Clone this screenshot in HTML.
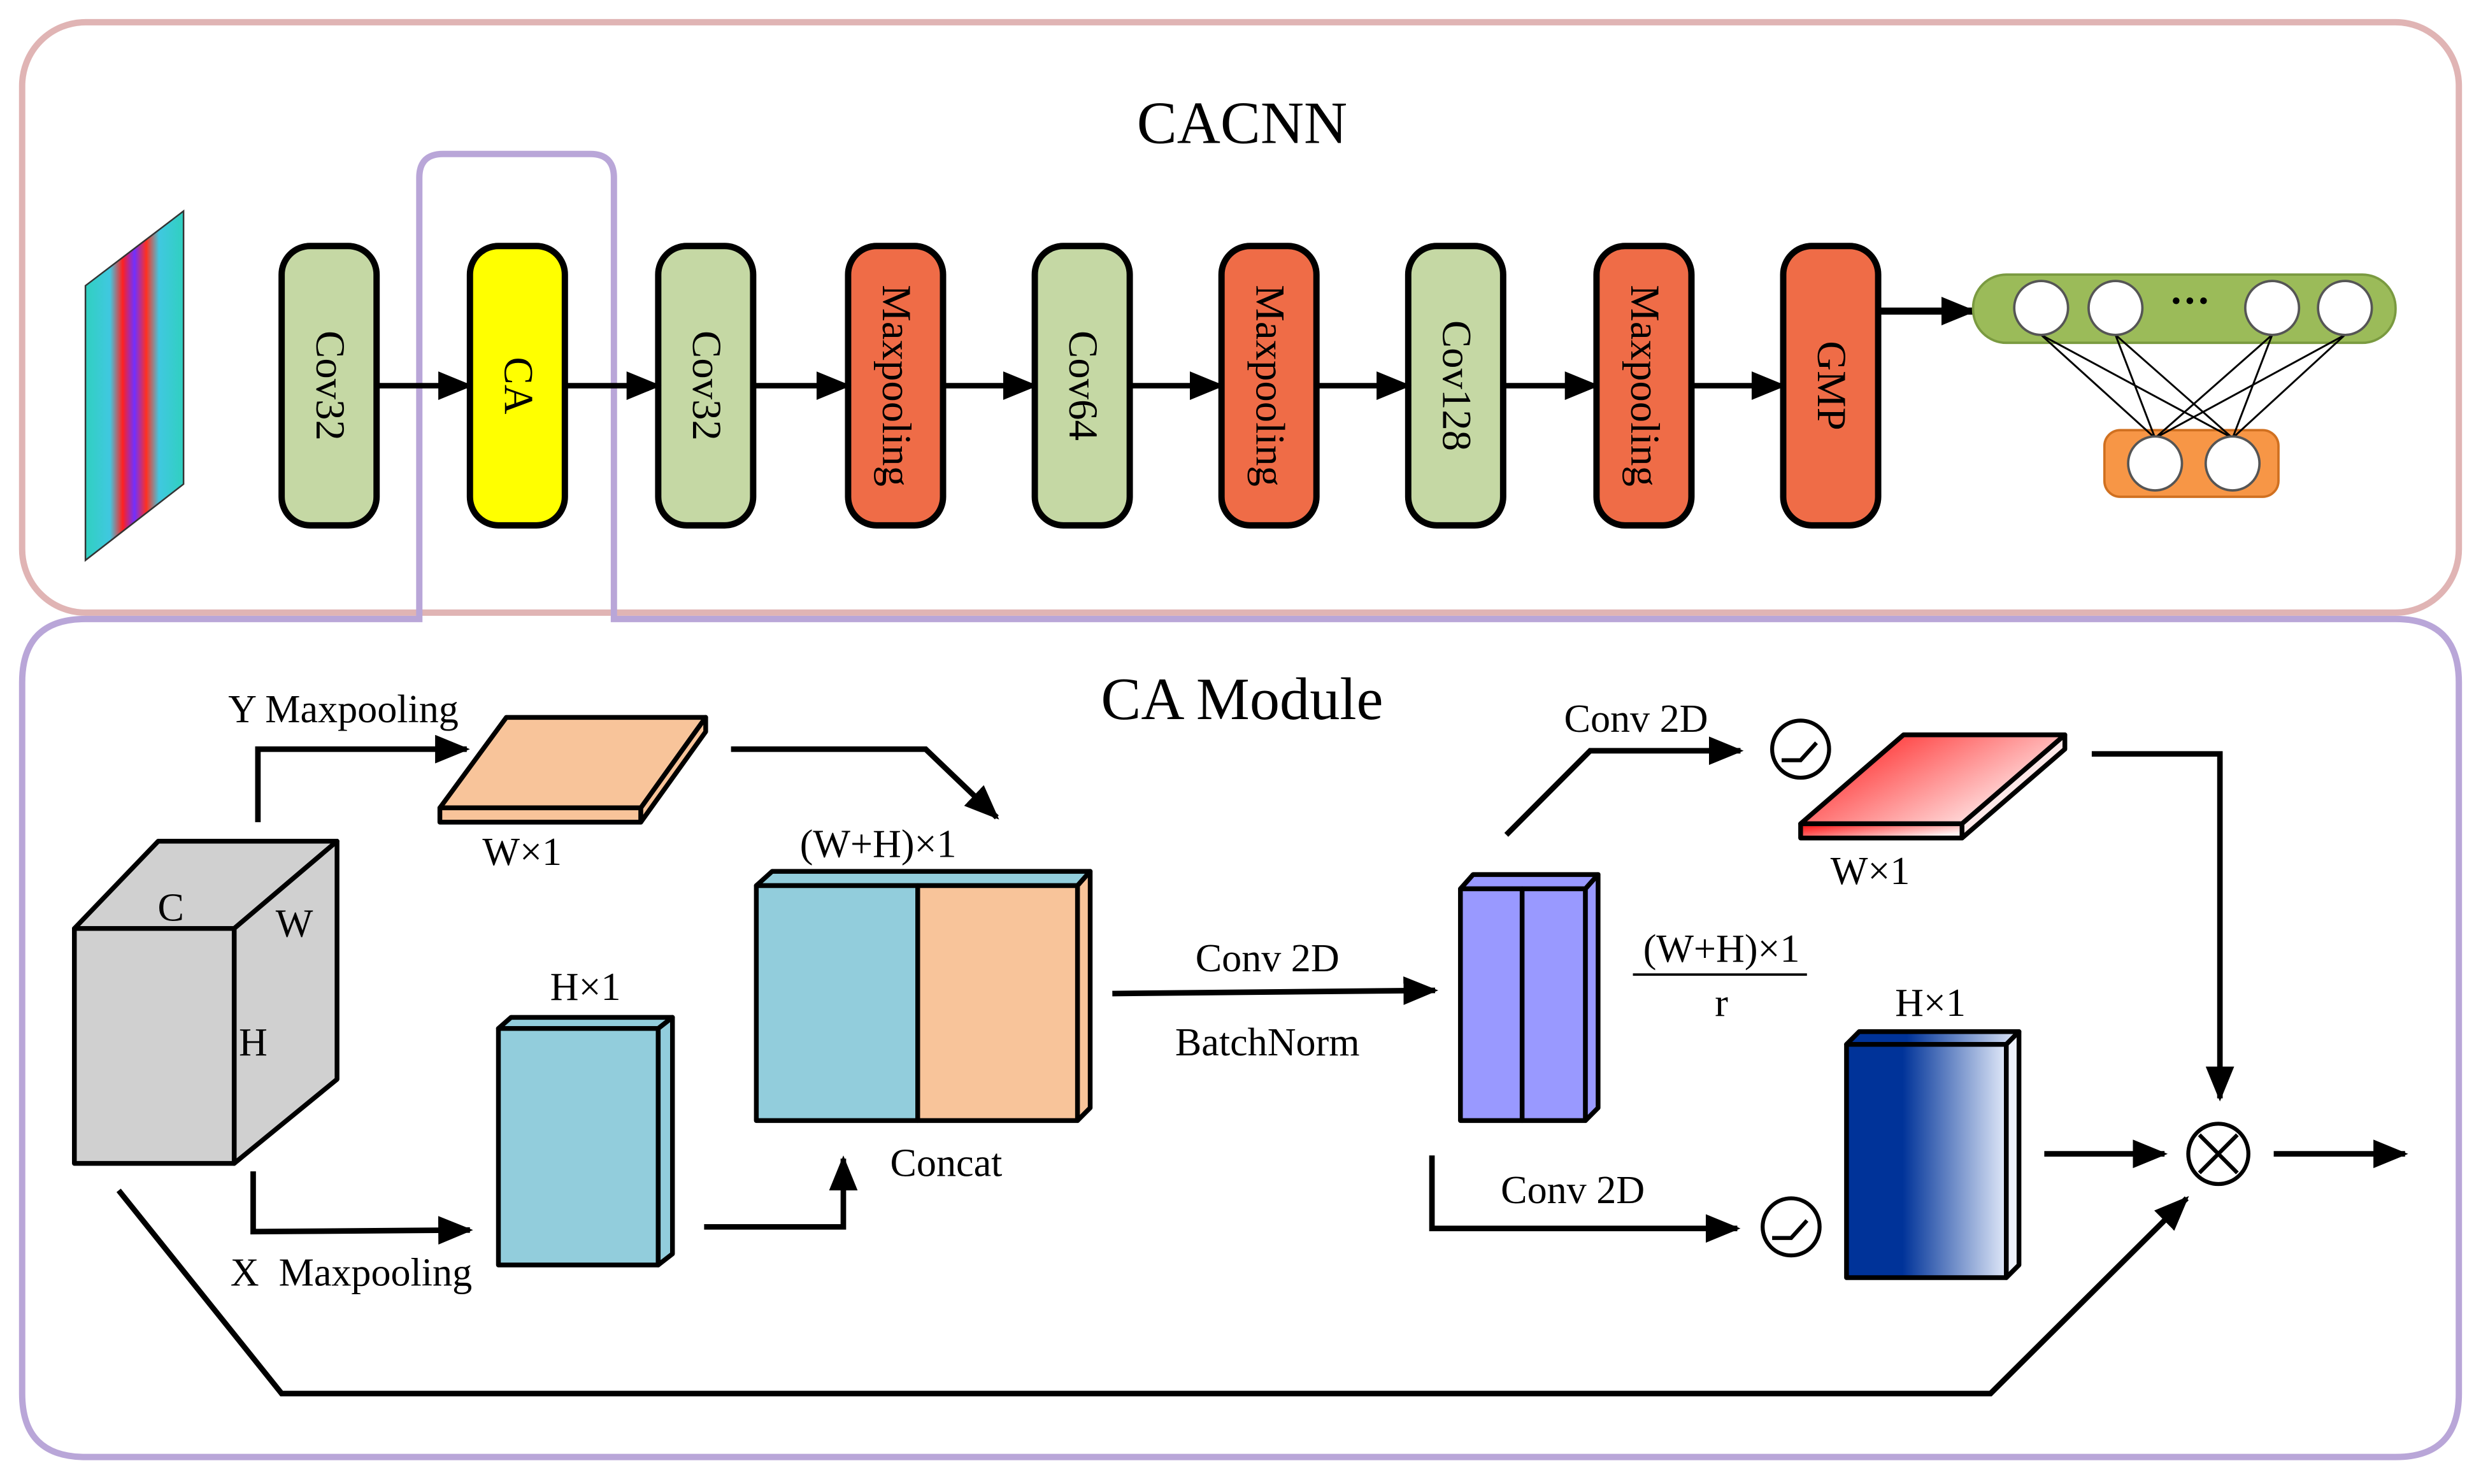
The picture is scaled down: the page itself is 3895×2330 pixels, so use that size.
<!DOCTYPE html>
<html><head><meta charset="utf-8"><style>
html,body{margin:0;padding:0;background:#fff;}
svg{display:block;}
</style></head><body>
<svg width="3895" height="2330" viewBox="0 0 1568 935" preserveAspectRatio="none" xmlns="http://www.w3.org/2000/svg" font-family="'Liberation Serif', 'DejaVu Serif', serif">
<defs>
<marker id="ab" markerWidth="22" markerHeight="18" refX="20" refY="9" orient="auto" markerUnits="userSpaceOnUse" viewBox="0 0 22 18">
<path d="M0,0 L22,9 L0,18 z" fill="#000"/></marker>
<linearGradient id="img" x1="0" y1="0" x2="1" y2="0">
<stop offset="0" stop-color="#30d0c0"/><stop offset="0.25" stop-color="#40c8e0"/><stop offset="0.38" stop-color="#ff2020"/><stop offset="0.5" stop-color="#7030ff"/><stop offset="0.62" stop-color="#ff3020"/><stop offset="0.75" stop-color="#40c8e0"/><stop offset="1" stop-color="#30d0c0"/></linearGradient>
<linearGradient id="red" x1="0" y1="0" x2="1" y2="0.6"><stop offset="0.1" stop-color="#ff2020"/><stop offset="1" stop-color="#fff0f0"/></linearGradient>
<linearGradient id="blue" x1="0" y1="0" x2="1" y2="0"><stop offset="0.35" stop-color="#003399"/><stop offset="1" stop-color="#e0e8f8"/></linearGradient>
</defs>

<rect x="14" y="14" width="1540" height="372" rx="40" fill="none" stroke="#e0b4b4" stroke-width="4"/>
<path d="M265,390 L54,390 Q14,390 14,430 L14,878 Q14,918 54,918 L1514,918 Q1554,918 1554,878 L1554,430 Q1554,390 1514,390 L388,390 L388,112 Q388,97 373,97 L280,97 Q265,97 265,112 Z" fill="none" stroke="#b9a6d8" stroke-width="4"/>

<text x="785" y="90" font-size="38" text-anchor="middle" font-family="'Liberation Serif', serif">CACNN</text>

<polygon points="54,180 116,133 116,305 54,353" fill="url(#img)" stroke="#333" stroke-width="1"/>

<g stroke="#000" stroke-width="4">
<rect x="178" y="155" width="60" height="176" rx="18" fill="#c5d8a4"/>
<rect x="297" y="155" width="60" height="176" rx="18" fill="#ffff00"/>
<rect x="416" y="155" width="60" height="176" rx="18" fill="#c5d8a4"/>
<rect x="536" y="155" width="60" height="176" rx="18" fill="#ef6c47"/>
<rect x="654" y="155" width="60" height="176" rx="18" fill="#c5d8a4"/>
<rect x="772" y="155" width="60" height="176" rx="18" fill="#ef6c47"/>
<rect x="890" y="155" width="60" height="176" rx="18" fill="#c5d8a4"/>
<rect x="1009" y="155" width="60" height="176" rx="18" fill="#ef6c47"/>
<rect x="1127" y="155" width="60" height="176" rx="18" fill="#ef6c47"/>
</g>
<g font-size="26" font-family="'Liberation Serif', serif">
<text transform="translate(200,243) rotate(90)" text-anchor="middle">Cov32</text>
<text transform="translate(319,243) rotate(90)" text-anchor="middle">CA</text>
<text transform="translate(438,243) rotate(90)" text-anchor="middle">Cov32</text>
<text transform="translate(558,243) rotate(90)" text-anchor="middle">Maxpooling</text>
<text transform="translate(676,243) rotate(90)" text-anchor="middle">Cov64</text>
<text transform="translate(794,243) rotate(90)" text-anchor="middle">Maxpooling</text>
<text transform="translate(912,243) rotate(90)" text-anchor="middle">Cov128</text>
<text transform="translate(1031,243) rotate(90)" text-anchor="middle">Maxpooling</text>
<text transform="translate(1149,243) rotate(90)" text-anchor="middle">GMP</text>
</g>
<g stroke="#000" stroke-width="3.5" marker-end="url(#ab)">
<line x1="238" y1="243" x2="297" y2="243"/>
<line x1="357" y1="243" x2="416" y2="243"/>
<line x1="476" y1="243" x2="536" y2="243"/>
<line x1="596" y1="243" x2="654" y2="243"/>
<line x1="714" y1="243" x2="772" y2="243"/>
<line x1="832" y1="243" x2="890" y2="243"/>
<line x1="950" y1="243" x2="1009" y2="243"/>
<line x1="1069" y1="243" x2="1127" y2="243"/>
<line x1="1187" y1="196" x2="1247" y2="196" stroke-width="4.5"/>
</g>

<rect x="1247" y="173" width="267" height="43" rx="21" fill="#9bbb59" stroke="#7a9a40" stroke-width="1.5"/>
<rect x="1330" y="271" width="110" height="42" rx="10" fill="#f79646" stroke="#d07020" stroke-width="1.5"/>
<g stroke="#000" stroke-width="1.2">
<line x1="1290" y1="211" x2="1362" y2="276"/><line x1="1290" y1="211" x2="1411" y2="276"/>
<line x1="1337" y1="211" x2="1362" y2="276"/><line x1="1337" y1="211" x2="1411" y2="276"/>
<line x1="1436" y1="211" x2="1362" y2="276"/><line x1="1436" y1="211" x2="1411" y2="276"/>
<line x1="1482" y1="211" x2="1362" y2="276"/><line x1="1482" y1="211" x2="1411" y2="276"/>
</g>
<g fill="#fff" stroke="#555" stroke-width="1.5">
<circle cx="1290" cy="194" r="17"/><circle cx="1337" cy="194" r="17"/><circle cx="1436" cy="194" r="17"/><circle cx="1482" cy="194" r="17"/>
<circle cx="1362" cy="292" r="17"/><circle cx="1411" cy="292" r="17"/>
</g>
<text x="1384" y="198" font-size="26" font-weight="bold" text-anchor="middle">···</text>

<text x="785" y="453" font-size="38" text-anchor="middle" font-family="'Liberation Serif', serif">CA Module</text>

<g stroke="#000" stroke-width="3" fill="#d0d0d0" stroke-linejoin="round">
<polygon points="47,585 100,530 213,530 148,585"/>
<polygon points="148,585 213,530 213,680 148,733"/>
<rect x="47" y="585" width="101" height="148"/>
</g>
<g font-size="25" font-family="'Liberation Serif', serif">
<text x="108" y="580" text-anchor="middle">C</text>
<text x="186" y="590" text-anchor="middle">W</text>
<text x="160" y="665" text-anchor="middle">H</text>
</g>

<g stroke="#000" stroke-width="3.5" fill="none" marker-end="url(#ab)">
<polyline points="163,518 163,472 295,472"/>
<polyline points="462,472 585,472 630,515"/>
<polyline points="160,738 160,776 297,775"/>
<polyline points="445,773 533,773 533,730"/>
<line x1="703" y1="626" x2="907" y2="624"/>
<polyline points="952,526 1005,473 1100,473"/>
<polyline points="905,728 905,774 1098,774"/>
<polyline points="1322,475 1403,475 1403,692"/>
<line x1="1292" y1="727" x2="1368" y2="727"/>
<line x1="1437" y1="727" x2="1520" y2="727"/>
<polyline points="75,750 178,878 1258,878 1382,755"/>
</g>

<g font-size="25" font-family="'Liberation Serif', serif">
<text x="217" y="455" text-anchor="middle">Y Maxpooling</text>
<text x="330" y="545" text-anchor="middle">W×1</text>
<text x="370" y="630" text-anchor="middle">H×1</text>
<text x="222" y="810" text-anchor="middle" xml:space="preserve">X  Maxpooling</text>
<text x="555" y="540" text-anchor="middle">(W+H)×1</text>
<text x="598" y="741" text-anchor="middle">Concat</text>
<text x="801" y="612" text-anchor="middle">Conv 2D</text>
<text x="801" y="665" text-anchor="middle">BatchNorm</text>
<text x="1088" y="606" text-anchor="middle">(W+H)×1</text>
<text x="1088" y="640" text-anchor="middle">r</text>
<text x="1034" y="461" text-anchor="middle">Conv 2D</text>
<text x="994" y="758" text-anchor="middle">Conv 2D</text>
<text x="1182" y="557" text-anchor="middle">W×1</text>
<text x="1220" y="640" text-anchor="middle">H×1</text>
</g>
<line x1="1032" y1="614" x2="1142" y2="614" stroke="#000" stroke-width="1.5"/>

<g stroke="#000" stroke-width="3" stroke-linejoin="round">
<polygon points="278,509 320,452 446,452 405,509" fill="#f8c49a"/>
<rect x="278" y="509" width="127" height="9" fill="#f8c49a"/>
<polygon points="405,509 446,452 446,461 405,518" fill="#f8c49a"/>
<polygon points="315,648 323,641 425,641 416,648" fill="#92cddc"/>
<rect x="315" y="648" width="101" height="149" fill="#92cddc"/>
<polygon points="416,648 425,641 425,790 416,797" fill="#92cddc"/>
<polygon points="478,558 488,549 689,549 681,558" fill="#92cddc"/>
<rect x="478" y="558" width="102" height="148" fill="#92cddc"/>
<rect x="580" y="558" width="101" height="148" fill="#f8c49a"/>
<polygon points="681,558 689,549 689,698 681,706" fill="#f8c49a"/>
<polygon points="923,560 931,551 1010,551 1002,560" fill="#9999ff"/>
<rect x="923" y="560" width="39" height="146" fill="#9999ff"/>
<rect x="962" y="560" width="40" height="146" fill="#9999ff"/>
<polygon points="1002,560 1010,551 1010,698 1002,706" fill="#9999ff"/>
<polygon points="1138,519 1203,463 1305,463 1240,519" fill="url(#red)"/>
<rect x="1138" y="519" width="102" height="9" fill="url(#red)"/>
<polygon points="1240,519 1305,463 1305,472 1240,528" fill="#fde8e8"/>
<polygon points="1167,658 1175,650 1276,650 1268,658" fill="url(#blue)"/>
<rect x="1167" y="658" width="101" height="147" fill="url(#blue)"/>
<polygon points="1268,658 1276,650 1276,797 1268,805" fill="#eef2fb"/>
</g>

<g fill="none" stroke="#000" stroke-width="2.5">
<circle cx="1138" cy="472" r="18"/><polyline points="1126,479 1138,479 1148,468"/>
<circle cx="1132" cy="773" r="18"/><polyline points="1120,780 1132,780 1142,769"/>
<circle cx="1402" cy="727" r="19"/>
<line x1="1390" y1="715" x2="1414" y2="739"/><line x1="1414" y1="715" x2="1390" y2="739"/>
</g>
</svg>
</body></html>
